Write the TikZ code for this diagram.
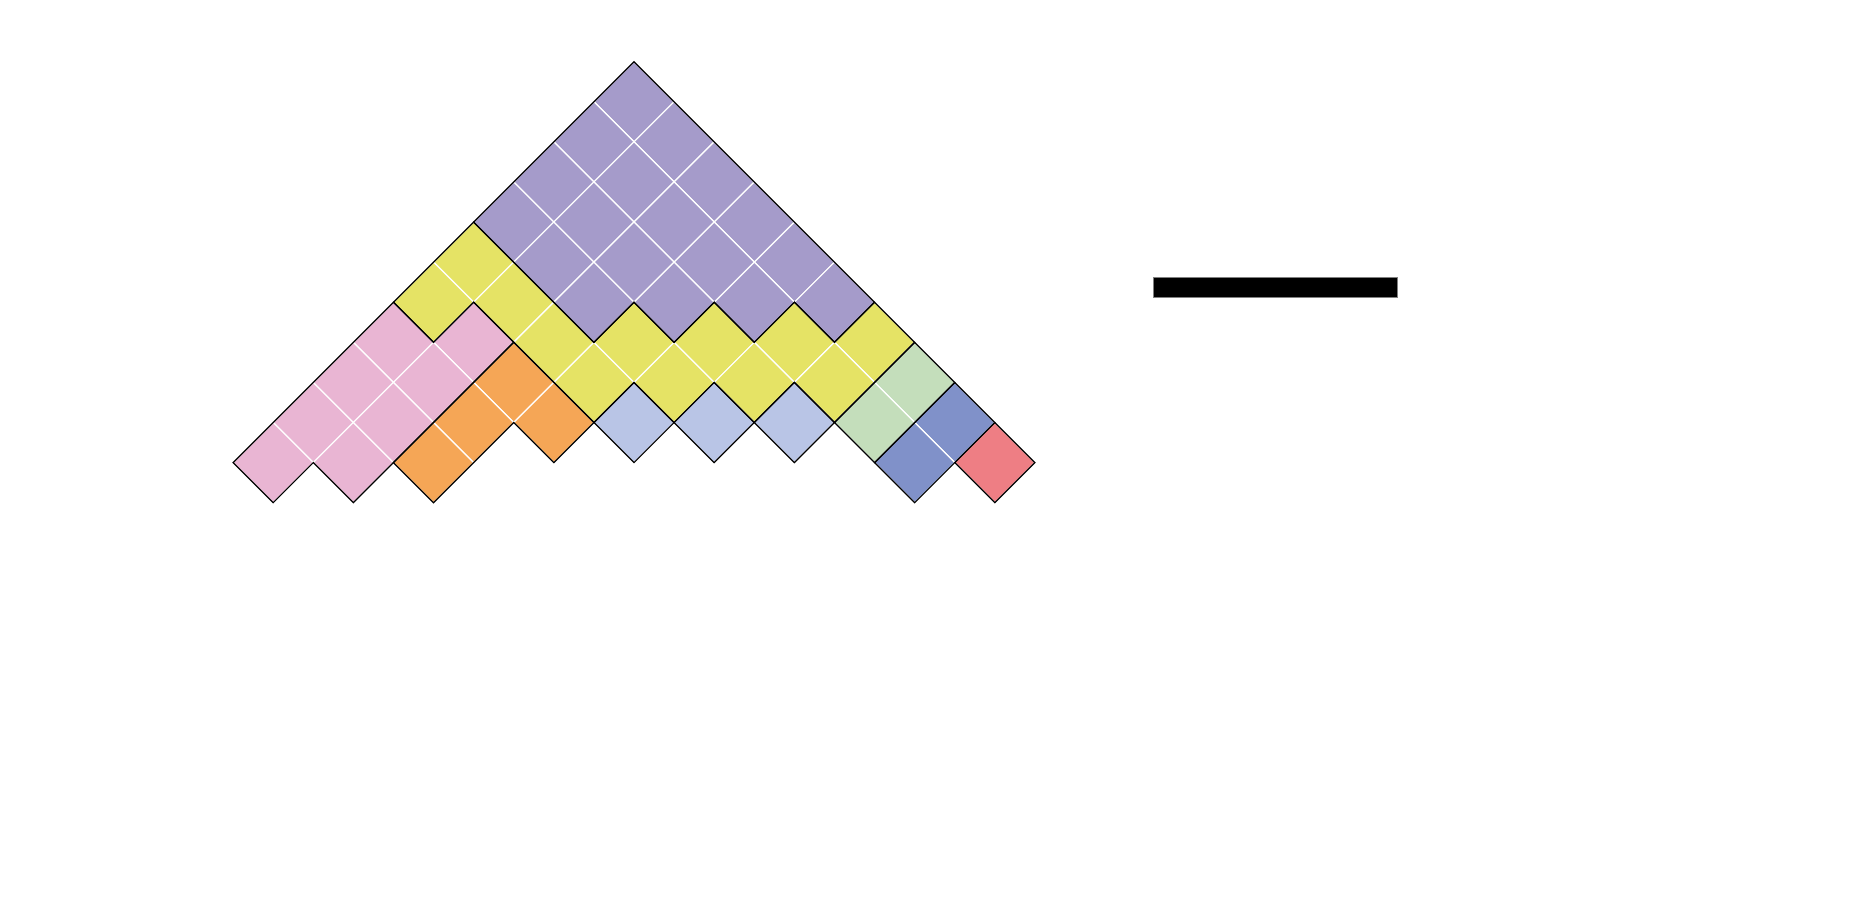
\documentclass[tikz,border=0pt]{standalone}
\usepackage{tikz}

\definecolor{lilac}{HTML}{A59BCA}
\definecolor{lemon}{HTML}{E5E365}
\definecolor{rose}{HTML}{E9B5D3}
\definecolor{apricot}{HTML}{F5A656}
\definecolor{skyblue}{HTML}{B9C5E6}
\definecolor{sage}{HTML}{C4DEBB}
\definecolor{cornflower}{HTML}{8091C9}
\definecolor{coral}{HTML}{EE7E84}

\tikzset{
  cell/.style={draw=white, line width=0.35pt},
  region/.style={draw=black, line width=0.35pt, line join=miter},
}

\begin{document}
\begin{tikzpicture}
   \useasboundingbox (0,0) rectangle (18.6,9.1);
   \begin{scope}[shift={(6.34,8.483)}, rotate=-45, scale=0.567]
      % cells, row \i and column \j
      \foreach \i/\n in {0/5,1/4,2/3,3/2}
         \foreach \j in {0,...,\n}
            \filldraw[cell, fill=lilac] (\j,-\i) rectangle ++(1,-1);
      \foreach \i/\j in {0/6,1/5,1/6,2/4,2/5,3/3,3/4,4/0,4/1,4/2,4/3,5/0}
         \filldraw[cell, fill=lemon] (\j,-\i) rectangle ++(1,-1);
      \foreach \i/\j in {5/1,6/0,6/1,7/0,7/1,8/0,8/1,9/0}
         \filldraw[cell, fill=rose] (\j,-\i) rectangle ++(1,-1);
      \foreach \i/\j in {5/2,5/3,6/2,7/2}
         \filldraw[cell, fill=apricot] (\j,-\i) rectangle ++(1,-1);
      \foreach \i/\j in {4/4,3/5,2/6}
         \filldraw[cell, fill=skyblue] (\j,-\i) rectangle ++(1,-1);
      \foreach \i/\j in {0/7,1/7}
         \filldraw[cell, fill=sage] (\j,-\i) rectangle ++(1,-1);
      \foreach \i/\j in {0/8,1/8}
         \filldraw[cell, fill=cornflower] (\j,-\i) rectangle ++(1,-1);
      \filldraw[cell, fill=coral] (9,0) rectangle ++(1,-1);

      % region outlines
      \draw[region] (0,0) -- (6,0) -- (6,-1) -- (5,-1) -- (5,-2) -- (4,-2)
         -- (4,-3) -- (3,-3) -- (3,-4) -- (0,-4) -- cycle;
      \draw[region] (6,0) -- (7,0) -- (7,-2) -- (6,-2) -- (6,-3) -- (5,-3)
         -- (5,-4) -- (4,-4) -- (4,-5) -- (1,-5) -- (1,-6) -- (0,-6)
         -- (0,-4) -- (3,-4) -- (3,-3) -- (4,-3) -- (4,-2) -- (5,-2)
         -- (5,-1) -- (6,-1) -- cycle;
      \draw[region] (1,-5) -- (2,-5) -- (2,-9) -- (1,-9) -- (1,-10) -- (0,-10)
         -- (0,-6) -- (1,-6) -- cycle;
      \draw[region] (2,-5) -- (4,-5) -- (4,-6) -- (3,-6) -- (3,-8) -- (2,-8) -- cycle;
      \foreach \i/\j in {4/4,3/5,2/6}
         \draw[region] (\j,-\i) rectangle ++(1,-1);
      \draw[region] (7,0) rectangle (8,-2);
      \draw[region] (8,0) rectangle (9,-2);
      \draw[region] (9,0) rectangle (10,-1);
   \end{scope}

   % bar
   \filldraw[fill=black, draw=black!50, line width=0.2pt] (11.53,6.33) rectangle (13.97,6.13);
\end{tikzpicture}
\end{document}
